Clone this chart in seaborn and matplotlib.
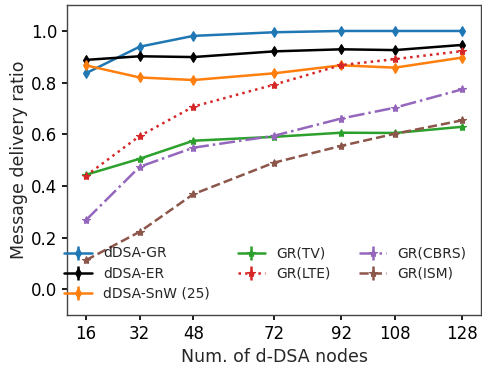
import matplotlib
matplotlib.use("Agg")
import matplotlib.pyplot as plt
from matplotlib.container import ErrorbarContainer
import numpy as np
import pandas as pd
import seaborn as sns

nodes = [16, 32, 48, 72, 92, 108, 128]

dsa_gr = [0.836, 0.939, 0.981, 0.995, 1.000, 1.000, 1.000]
dsa_er = [0.888, 0.902, 0.899, 0.921, 0.929, 0.926, 0.946]
dsa_snw = [0.867, 0.820, 0.810, 0.836, 0.867, 0.858, 0.897]
gr_tv = [0.443, 0.505, 0.575, 0.590, 0.606, 0.605, 0.629]
gr_lte = [0.439, 0.593, 0.707, 0.792, 0.868, 0.891, 0.922]
gr_cbrs = [0.267, 0.474, 0.548, 0.594, 0.661, 0.703, 0.774]
gr_ism = [0.112, 0.222, 0.368, 0.490, 0.555, 0.602, 0.654]

series_names = ["dDSA-GR", "dDSA-ER", "dDSA-SnW (25)",
                "GR(TV)", "GR(LTE)", "GR(CBRS)", "GR(ISM)"]
series_values = [dsa_gr, dsa_er, dsa_snw, gr_tv, gr_lte, gr_cbrs, gr_ism]
err = 0.012

pal = sns.color_palette("tab10")
styles = {
    "dDSA-GR": dict(color=pal[0], marker="d", ls="-", ms=5),
    "dDSA-ER": dict(color="black", marker="d", ls="-", ms=5),
    "dDSA-SnW (25)": dict(color=pal[1], marker="d", ls="-", ms=5),
    "GR(TV)": dict(color=pal[2], marker="*", ls="-", ms=6),
    "GR(LTE)": dict(color=pal[3], marker="*", ls=":", ms=6),
    "GR(CBRS)": dict(color=pal[4], marker="*", ls="-.", ms=6),
    "GR(ISM)": dict(color=pal[5], marker="*", ls="--", ms=6),
}

df = pd.DataFrame({
    "nodes": np.tile(nodes, len(series_names)),
    "ratio": np.concatenate(series_values),
    "scheme": np.repeat(series_names, len(nodes)),
})

sns.set_theme(style="ticks", rc={
    "axes.edgecolor": "#444444",
    "axes.linewidth": 1.0,
    "xtick.color": "black",
    "ytick.color": "black",
    "xtick.major.size": 3.5,
    "ytick.major.size": 3.5,
})
plt.rcParams["font.family"] = ["DejaVu Sans"]

fig = plt.figure(figsize=(4.82, 3.68), dpi=100)
ax = fig.add_axes([0.139, 0.144, 0.859, 0.842])

handles = []
for name in series_names:
    st = styles[name]
    sub = df[df["scheme"] == name]
    sns.lineplot(data=sub, x="nodes", y="ratio", ax=ax, color=st["color"],
                 marker=st["marker"], linestyle=st["ls"], linewidth=1.8,
                 markersize=st["ms"], markeredgewidth=0.8,
                 markeredgecolor=st["color"], legend=False)
    line = ax.lines[-1]
    bars = ax.vlines(sub["nodes"], sub["ratio"] - err, sub["ratio"] + err,
                     color=st["color"], linewidth=1.8)
    handles.append(ErrorbarContainer((line, (), [bars]), has_xerr=False,
                                     has_yerr=True, label=name))

ax.set_xlim(10.4, 133.6)
ax.set_ylim(-0.1, 1.1)
ax.set_xticks(nodes)
ax.set_yticks([0.0, 0.2, 0.4, 0.6, 0.8, 1.0])
ax.tick_params(labelsize=12)
ax.set_xlabel("Num. of d-DSA nodes", fontsize=12.5)
ax.set_ylabel("Message delivery ratio", fontsize=12.5, labelpad=2)

ax.legend(handles=handles, labels=series_names, ncol=3, frameon=False,
          fontsize=10, loc="lower left", bbox_to_anchor=(-0.037, 0.005),
          labelspacing=0.45)

fig.savefig("out.png", dpi=100)
